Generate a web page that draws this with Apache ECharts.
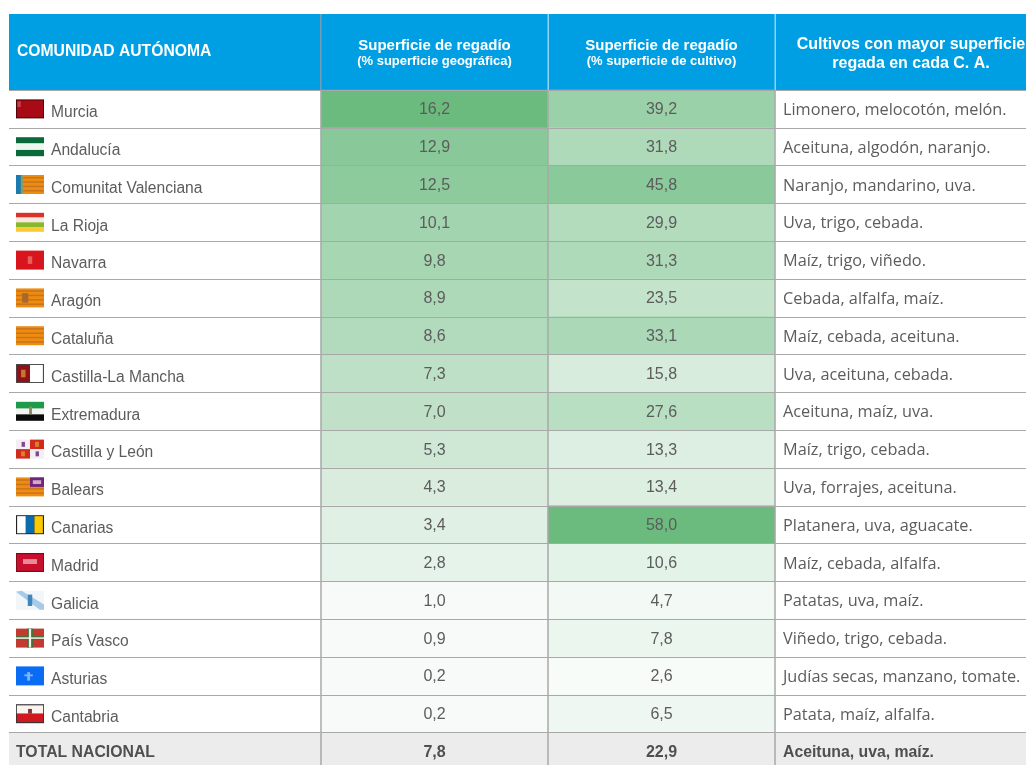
<!DOCTYPE html>
<html>
<head>
<meta charset="utf-8">
<title>Superficie de regadío por comunidad autónoma</title>
<style>
  html, body { margin: 0; background: #fff; }
  #grafico { width: 1026px; height: 765px; }
</style>
<script src="https://cdn.jsdelivr.net/npm/echarts@6/dist/echarts.min.js"></script>
</head>
<body>
<div id="grafico"></div>
<script>
// datos de la tabla
const comunidades = ["Murcia", "Andalucía", "Comunitat Valenciana", "La Rioja", "Navarra", "Aragón", "Cataluña",
  "Castilla-La Mancha", "Extremadura", "Castilla y León", "Balears", "Canarias", "Madrid", "Galicia",
  "País Vasco", "Asturias", "Cantabria", "TOTAL NACIONAL"];
const pctGeografica = [16.2, 12.9, 12.5, 10.1, 9.8, 8.9, 8.6, 7.3, 7.0, 5.3, 4.3, 3.4, 2.8, 1.0, 0.9, 0.2, 0.2];
const pctCultivo = [39.2, 31.8, 45.8, 29.9, 31.3, 23.5, 33.1, 15.8, 27.6, 13.3, 13.4, 58.0, 10.6, 4.7, 7.8, 2.6, 6.5];
const totalNacional = [7.8, 22.9];
const cultivos = ["Limonero, melocotón, melón.", "Aceituna, algodón, naranjo.", "Naranjo, mandarino, uva.",
  "Uva, trigo, cebada.", "Maíz, trigo, viñedo.", "Cebada, alfalfa, maíz.", "Maíz, cebada, aceituna.",
  "Uva, aceituna, cebada.", "Aceituna, maíz, uva.", "Maíz, trigo, cebada.", "Uva, forrajes, aceituna.",
  "Platanera, uva, aguacate.", "Maíz, cebada, alfalfa.", "Patatas, uva, maíz.", "Viñedo, trigo, cebada.",
  "Judías secas, manzano, tomate.", "Patata, maíz, alfalfa.", "Aceituna, uva, maíz."];
const columnas = ["Superficie de regadío|(% superficie geográfica)", "Superficie de regadío|(% superficie de cultivo)"];

// banderas: [x, y, ancho, alto, color] en fracciones de la bandera, o [puntos, color] si es un poligono
const naranja = "#ee8c12", franja = "#c9741c";
const barras = [[0, 0, 1, 1, naranja], [0, .1, 1, .08, franja], [0, .33, 1, .08, franja], [0, .56, 1, .08, franja], [0, .79, 1, .08, franja]];
const banderas = {
  "Murcia": [[0, 0, 1, 1, "#3d0508"], [.03, .05, .94, .9, "#a80a16"], [.05, .1, .12, .3, "#c8404a"]],
  "Andalucía": [[0, 0, 1, .33, "#0a693a"], [0, .33, 1, .34, "#eef6f0"], [0, .67, 1, .33, "#0a693a"]],
  "Comunitat Valenciana": barras.concat([[0, 0, .2, 1, "#1b7bb0"], [.17, 0, .08, 1, "#8a9a60"]]),
  "La Rioja": [[0, 0, 1, .25, "#d9322b"], [0, .25, 1, .25, "#f7e9e2"], [0, .5, 1, .25, "#8ab72e"], [0, .75, 1, .25, "#fbcb37"]],
  "Navarra": [[0, 0, 1, 1, "#d8141d"], [.42, .3, .16, .4, "#e8605a"]],
  "Aragón": barras.concat([[.22, .25, .22, .5, "#a8682c"]]),
  "Cataluña": barras,
  "Castilla-La Mancha": [[0, 0, 1, 1, "#4a4a4a"], [.03, .05, .47, .9, "#8f1219"], [.5, .05, .46, .9, "#ffffff"], [.18, .3, .16, .4, "#c8772a"]],
  "Extremadura": [[0, 0, 1, .36, "#1f9a4b"], [0, .36, 1, .3, "#f5f5f0"], [0, .66, 1, .34, "#0b0b0b"], [.47, .25, .1, .4, "#8a8a5a"]],
  "Castilla y León": [[0, 0, .5, .5, "#f4eef2"], [.5, 0, .5, .5, "#d22a1c"], [0, .5, .5, .5, "#d22a1c"], [.5, .5, .5, .5, "#f4eef2"],
    [.2, .12, .12, .26, "#7a4a90"], [.68, .12, .14, .26, "#d8822a"], [.18, .62, .14, .26, "#d8822a"], [.7, .62, .12, .26, "#7a4a90"]],
  "Balears": barras.concat([[.5, 0, .5, .5, "#70257c"], [.6, .15, .3, .2, "#d4a8c8"]]),
  "Canarias": [[0, 0, 1, 1, "#222222"], [.04, .05, .31, .9, "#ffffff"], [.35, .05, .31, .9, "#0a6cae"], [.66, .05, .3, .9, "#fcc800"]],
  "Madrid": [[0, 0, 1, 1, "#7a0a18"], [.03, .06, .94, .88, "#c80f2e"], [.25, .32, .5, .26, "#e88a98"]],
  "Galicia": [[0, 0, 1, 1, "#f3f6f8"], [[[0, .05], [.2, 0], [1, .72], [1, 1], [.85, 1]], "#a5cbe6"], [.42, .2, .16, .6, "#3f86c0"]],
  "País Vasco": [[0, 0, 1, 1, "#c23a30"], [.4, 0, .2, 1, "#2f7a3f"], [0, .4, 1, .2, "#2f7a3f"], [.46, 0, .08, 1, "#f6eee6"], [0, .46, 1, .08, "#f6eee6"]],
  "Asturias": [[0, 0, 1, 1, "#0a6cf5"], [.4, .3, .1, .45, "#7fb4f0"], [.3, .42, .3, .1, "#7fb4f0"]],
  "Cantabria": [[0, 0, 1, 1, "#333333"], [.03, .06, .94, .44, "#fbf3f0"], [.03, .5, .94, .44, "#d0181e"], [.43, .25, .14, .25, "#7a3a3a"]]
};

const filaAlto = 37.8;
const gridTop = 90;
const fuente = "'Liberation Sans', Arial, sans-serif";
const fuenteCultivos = "'Open Sans', Arial, sans-serif";
const colorTexto = "#5c5c5c";
const colorLinea = "#a8a8a8";
const colorTotal = "#ececec";
const azul = "#009fe3";

const coma = v => v.toFixed(1).replace(".", ",");
const lineasFila = { show: true, lineStyle: { color: colorLinea, width: 1 } };
const fondoTotal = {
  show: true, interval: 0,
  areaStyle: { color: comunidades.map((c, i) => i === comunidades.length - 1 ? colorTotal : "rgba(0,0,0,0)") }
};

function ejeY(gridIndex, datos, label) {
  return {
    type: "category", gridIndex, inverse: true, data: datos,
    axisLine: { show: false }, axisTick: { show: false },
    splitLine: lineasFila, splitArea: fondoTotal,
    axisLabel: Object.assign({ interval: 0, inside: true, align: "left" }, label)
  };
}

function filaCalor(valores, col) {
  return valores.map((v, i) => [col, i, v]);
}

function serieCalor(datos, extra) {
  return Object.assign({
    type: "heatmap", xAxisIndex: 1, yAxisIndex: 1, data: datos, silent: true, z: 1,
    label: { show: true, color: colorTexto, fontFamily: fuente, fontSize: 16, offset: [0, 1], formatter: p => coma(p.value[2]) }
  }, extra);
}

const chart = echarts.init(document.getElementById("grafico"), null, { renderer: "canvas" });

chart.setOption({
  animation: false,
  backgroundColor: "#fff",
  grid: [
    { left: 9, width: 312, top: gridTop, height: filaAlto * 18, outerBoundsMode: "none" },
    { left: 321, width: 454, top: gridTop, height: filaAlto * 18, outerBoundsMode: "none" },
    { left: 775, width: 251, top: gridTop, height: filaAlto * 18, outerBoundsMode: "none" }
  ],
  xAxis: [
    { type: "value", gridIndex: 0, min: 0, max: 312, show: false },
    {
      type: "category", gridIndex: 1, position: "top", data: columnas, z: 5,
      axisLine: { show: false }, axisTick: { show: false },
      splitLine: { show: true, lineStyle: { color: colorLinea, width: 1.5 } },
      axisLabel: {
        margin: 21, interval: 0,
        formatter: v => { const p = v.split("|"); return "{a|" + p[0] + "}\n{b|" + p[1] + "}"; },
        rich: {
          a: { color: "#fff", fontFamily: fuente, fontWeight: "bold", fontSize: 15, lineHeight: 16 },
          b: { color: "#fff", fontFamily: fuente, fontWeight: "bold", fontSize: 13, lineHeight: 15 }
        }
      }
    },
    { type: "value", gridIndex: 2, min: 0, max: 1, show: false }
  ],
  yAxis: [
    ejeY(0, comunidades, {
      margin: 42,
      formatter: v => v === "TOTAL NACIONAL" ? "{t|" + v + "}" : "{n|" + v + "}",
      rich: {
        n: { color: colorTexto, fontFamily: fuente, fontSize: 15.6, padding: [8, 0, 0, 0] },
        t: { color: "#4f4f4f", fontFamily: fuente, fontWeight: "bold", fontSize: 15.8, padding: [2, 0, 0, -35] }
      }
    }),
    {
      type: "category", gridIndex: 1, inverse: true, data: comunidades, z: 4,
      axisLine: { show: false }, axisTick: { show: false }, axisLabel: { show: false },
      splitLine: lineasFila, splitArea: { show: false }
    },
    ejeY(2, cultivos, {
      margin: 8,
      formatter: (v, i) => i === cultivos.length - 1 ? "{t|" + v + "}" : "{n|" + v + "}",
      rich: {
        n: { color: colorTexto, fontFamily: fuenteCultivos, fontSize: 16.3, padding: [3, 0, 0, 0] },
        t: { color: "#4f4f4f", fontFamily: fuente, fontWeight: "bold", fontSize: 15.8, padding: [2, 0, 0, 0] }
      }
    })
  ],
  visualMap: [
    {
      type: "continuous", show: false, seriesIndex: 0, dimension: 2, min: 1, max: 16.2,
      inRange: { color: ["#f7faf8", "#6bbb7f"] }, outOfRange: { color: ["#f7faf8"] }
    },
    { type: "continuous", show: false, seriesIndex: 1, dimension: 2, min: 0, max: 58, inRange: { color: ["#ffffff", "#6bbb7f"] } }
  ],
  series: [
    serieCalor(filaCalor(pctGeografica, 0), { name: "% superficie geográfica" }),
    serieCalor(filaCalor(pctCultivo, 1), { name: "% superficie de cultivo" }),
    serieCalor(totalNacional.map((v, c) => [c, comunidades.length - 1, v]), {
      name: "Total nacional",
      itemStyle: { color: colorTotal },
      label: { show: true, color: "#4f4f4f", fontFamily: fuente, fontSize: 16, fontWeight: "bold", offset: [0, 1], formatter: p => coma(p.value[2]) }
    }),
    {
      // las banderitas se dibujan dentro de la primera columna
      type: "custom", xAxisIndex: 0, yAxisIndex: 0, silent: true, z: 6,
      data: comunidades.slice(0, -1).map((c, i) => [0, i, c]),
      renderItem(params, api) {
        const centro = api.coord([7, api.value(1)]);
        const w = 28, h = 19;
        const x0 = centro[0], y0 = centro[1] - h / 2;
        return {
          type: "group",
          children: banderas[comunidades[api.value(1)]].map(r => r.length === 2 ? {
            type: "polygon",
            shape: { points: r[0].map(p => [x0 + p[0] * w, y0 + p[1] * h]) },
            style: { fill: r[1] }
          } : {
            type: "rect",
            shape: { x: x0 + r[0] * w, y: y0 + r[1] * h, width: r[2] * w, height: r[3] * h },
            style: { fill: r[4] }
          })
        };
      }
    }
  ],
  graphic: [
    { type: "rect", z: -1, shape: { x: 9, y: 14, width: 1017, height: 76 }, style: { fill: azul } },
    { type: "rect", z: 1, shape: { x: 320, y: 14, width: 1.5, height: 76 }, style: { fill: "#6f9db8" } },
    { type: "rect", z: 1, shape: { x: 547.5, y: 14, width: 1.5, height: 76 }, style: { fill: "#8fd3f3" } },
    { type: "rect", z: 1, shape: { x: 774.5, y: 14, width: 1.5, height: 76 }, style: { fill: "#8fd3f3" } },
    {
      type: "text", z: 2, x: 17, y: 52,
      style: { text: "COMUNIDAD AUTÓNOMA", fill: "#fff", font: "bold 15.7px " + fuente, verticalAlign: "middle" }
    },
    {
      type: "text", z: 2, x: 911, y: 54,
      style: {
        text: "Cultivos con mayor superficie\nregada en cada C. A.", fill: "#fff", font: "bold 16px " + fuente,
        align: "center", verticalAlign: "middle", lineHeight: 19
      }
    }
  ]
});
</script>
</body>
</html>
